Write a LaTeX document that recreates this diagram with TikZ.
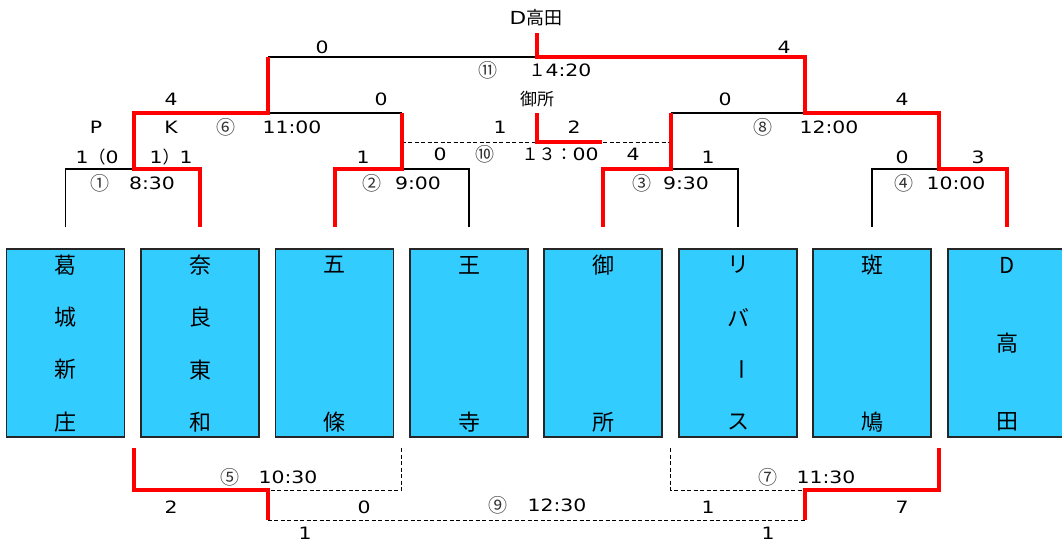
\documentclass[tikz,border=0pt]{standalone}
\usepackage{fontspec}
\setmainfont{DejaVu Sans}[FakeStretch=1.2]
\newfontfamily\jp{Noto Sans CJK JP}
\definecolor{teamblue}{HTML}{33CCFF}
\definecolor{winred}{HTML}{FF0000}
\begin{document}
\begin{tikzpicture}[x=1pt,y=-1pt,
	team/.style={draw=black!85, line width=1.3pt, fill=teamblue, minimum width=118pt, minimum height=188pt, inner sep=0pt},
	namechar/.style={font=\jp\fontsize{22}{24}\selectfont, inner sep=0pt},
	lost/.style={line width=1.5pt, black},
	won/.style={line width=4pt, winred},
	pending/.style={line width=1pt, black, dash pattern=on 4pt off 2.5pt},
	score/.style={font=\fontsize{17}{20}\selectfont, inner sep=0pt},
	gameno/.style={font=\jp\fontsize{19}{21}\selectfont, text=black!80, inner sep=0pt}]
	\useasboundingbox (0,0) rectangle (1062,542);
	\clip (0,0) rectangle (1062,542);
	%teams
	\foreach \xc/\n/\chars [count=\k] in {65.5/4/{葛,城,新,庄}, 200/4/{奈,良,東,和}, 334.5/2/{五,條}, 469/2/{王,寺}, 603/2/{御,所}, 738/4/{リ,バ,\rotatebox{-90}{ー},ス}, 872/2/{斑,鳩}, 1007/3/{D,高,田}}{
		\node[team] (t\k) at (\xc,343) {};
		\coordinate (up\k) at (\xc,227);
		\foreach \c [count=\j] in \chars
			\node[namechar] (t\k-\j) at (\xc,{265+(\j-1)*157/(\n-1)}) {\c};
	}
	%joints
	\coordinate (m1) at (133.5,169);
	\coordinate (m2) at (401.5,169);
	\coordinate (m3) at (670.5,169);
	\coordinate (m4) at (939,169);
	\coordinate (m6) at (268,113);
	\coordinate (m8) at (805,113);
	\coordinate (m11) at (536.5,57);
	\coordinate (champ) at (536.5,33);
	\coordinate (m10) at (536.5,142);
	\coordinate (m10r) at (602,142);
	\coordinate (s1) at (133.5,448);
	\coordinate (s2) at (401.5,448);
	\coordinate (s3) at (670.5,448);
	\coordinate (s4) at (939,448);
	\coordinate (m5) at (267.5,490);
	\coordinate (m7) at (805,490);
	\coordinate (m9) at (536,520);
	%losers
	\draw[lost] (up1) |- (m1);
	\draw[lost] (up4) |- (m2);
	\draw[lost] (up6) |- (m3);
	\draw[lost] (up7) |- (m4);
	\draw[lost] (m6) -- (m2 |- m6);
	\draw[lost] (m3 |- m8) -- (m8);
	\draw[lost] (m6 |- m11) -- (m11);
	%not played
	\draw[pending] (m2 |- m10) -- (m3 |- m10);
	\draw[pending] (s2) |- (m5);
	\draw[pending] (s3) |- (m7);
	\draw[pending] (m5 |- m9) -- (m7 |- m9);
	%winners
	\draw[won] (up2) |- (m1) |- (m6) -- (m6 |- m11);
	\draw[won] (up3) |- (m2) -- (m2 |- m6);
	\draw[won] (up5) |- (m3) -- (m3 |- m8);
	\draw[won] (up8) |- (m4) |- (m8) -- (m8 |- m11) -- (m11) -- (champ);
	\draw[won] (m11 |- m6) -- (m10) -- (m10r);
	\draw[won] (s1) |- (m5) -- (m5 |- m9);
	\draw[won] (s4) |- (m7) -- (m7 |- m9);
	%names above
	\node[font=\fontsize{18}{20}\selectfont, inner sep=0pt] (champname) at (536,18) {D{\jp 高田}};
	\node[gameno, text=black, font=\jp\fontsize{17}{20}\selectfont] (third) at (537,99) {御所};
	%scores
	\foreach \x/\y/\txt [count=\i] in {322/47/0, 784/47/4, 171/99/4, 381/99/0, 725/99/0, 902/99/4,
		96/127/P, 171/127/K, 500/127/1, 574/127/2,
		97/157/{1{\jp （}0}, 171/157/{1{\jp ）}1}, 363/157/1, 440/154/0, 633/154/4, 708/157/1, 902/157/0, 978/157/3,
		171/507/2, 364/507/0, 708/507/1, 902/507/7, 305/533/1, 768/533/1}
		\node[score] (sc\i) at (\x,\y) {\txt};
	%times
	\foreach \x/\y/\txt [count=\i] in {560/70/{{\jp １}4:20}, 292/127/11:00, 829/127/12:00, 560/154/{{\jp １３：}00},
		152/183/8:30, 418/183/9:00, 686/183/9:30, 956/183/10:00, 288/477/10:30, 826/477/11:30, 557/505/12:30}
		\node[score] (tm\i) at (\x,\y) {\txt};
	%game numbers
	\foreach \x/\y/\txt [count=\i] in {100/183/①, 372/183/②, 642/183/③, 904/183/④, 230/477/⑤, 226/127/⑥,
		768/477/⑦, 763/127/⑧, 498/505/⑨, 485/154/⑩, 488/70/⑪}
		\node[gameno] (g\i) at (\x,\y) {\txt};
\end{tikzpicture}
\end{document}
